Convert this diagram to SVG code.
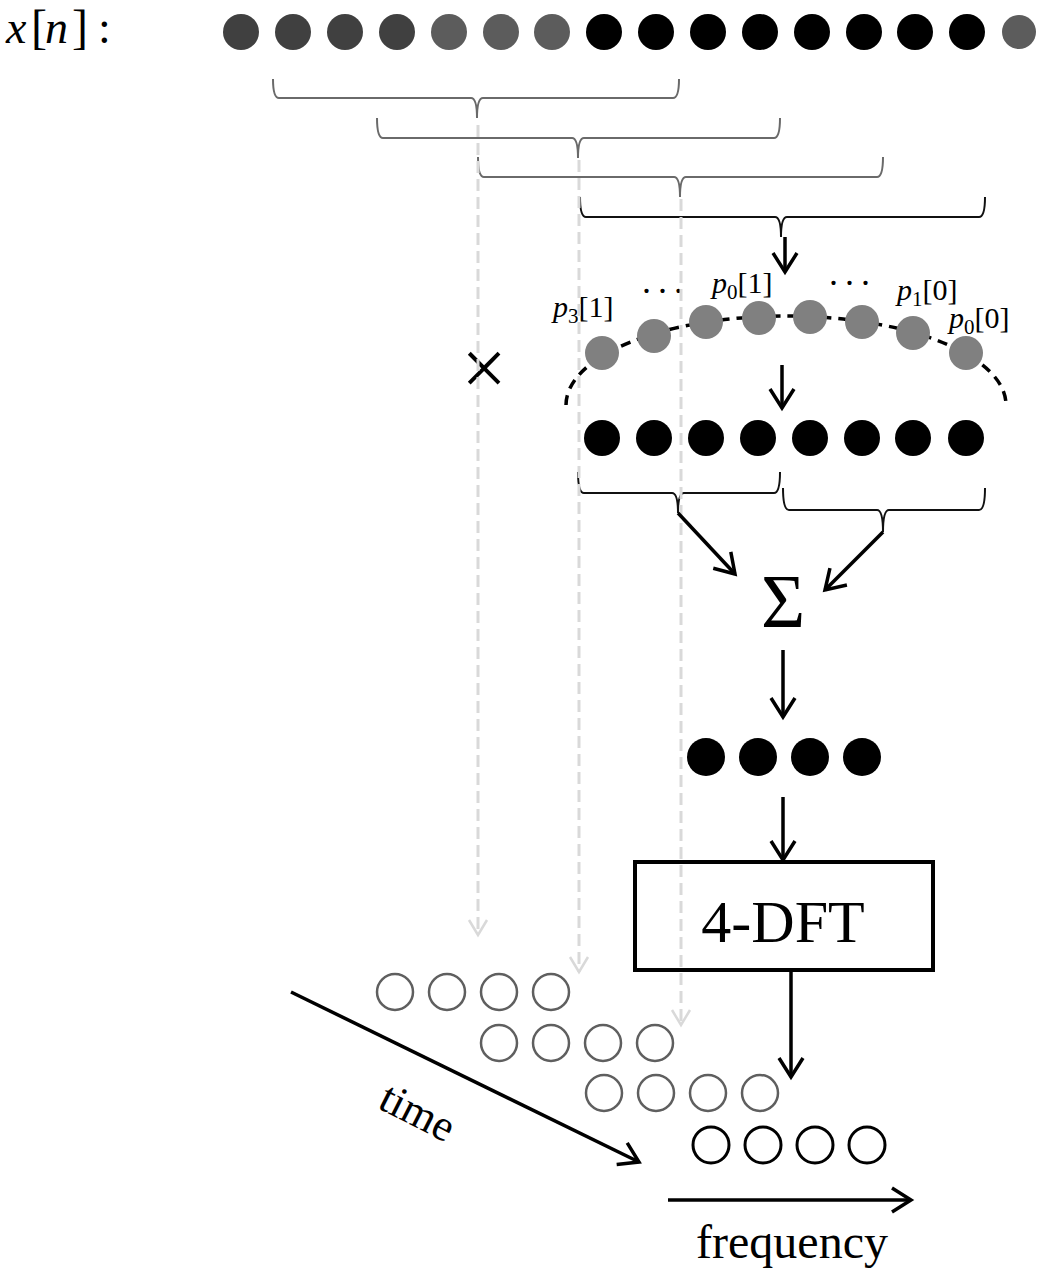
<svg xmlns="http://www.w3.org/2000/svg" width="1048" height="1275" viewBox="0 0 1048 1275">
<style>
  .serif { font-family: "Liberation Serif", "Times New Roman", serif; fill: #000; }
  .it { font-style: italic; }
  .brace-g { fill: none; stroke: #6a6a6a; stroke-width: 2; }
  .brace-k { fill: none; stroke: #111; stroke-width: 2; }
  .arrow { fill: none; stroke: #000; stroke-width: 3.5; marker-end: url(#ah); }
  .dash { fill: none; stroke: #d9d9d9; stroke-width: 3; stroke-dasharray: 12 6; marker-end: url(#ahg); }
  .ocirc-g { fill: none; stroke: #5f5f5f; stroke-width: 2.5; }
  .ocirc-k { fill: none; stroke: #000; stroke-width: 3; }
</style>
<defs>
  <marker id="ah" markerUnits="userSpaceOnUse" markerWidth="32" markerHeight="32" viewBox="-24 -16 32 32" refX="0" refY="0" orient="auto">
    <path d="M-19,-12 L0,0 L-19,12" fill="none" stroke="#000" stroke-width="3.5"/>
  </marker>
  <marker id="ahg" markerUnits="userSpaceOnUse" markerWidth="26" markerHeight="26" viewBox="-20 -13 26 26" refX="0" refY="0" orient="auto">
    <path d="M-15,-9 L0,0 L-15,9" fill="none" stroke="#d9d9d9" stroke-width="2.5"/>
  </marker>
</defs>

<g id="label-x">
  <text class="serif" font-size="46" y="43"><tspan class="it" x="6">x</tspan><tspan x="31" font-size="48">[</tspan><tspan class="it" x="45">n</tspan><tspan x="72" font-size="48">]</tspan><tspan x="98">:</tspan></text>
</g>

<g id="input-samples">
  <circle cx="241" cy="32" r="18" fill="#404040"/>
  <circle cx="293" cy="32" r="18" fill="#404040"/>
  <circle cx="345" cy="32" r="18" fill="#404040"/>
  <circle cx="397" cy="32" r="18" fill="#404040"/>
  <circle cx="449" cy="32" r="18" fill="#5c5c5c"/>
  <circle cx="501" cy="32" r="18" fill="#5c5c5c"/>
  <circle cx="552" cy="32" r="18" fill="#5c5c5c"/>
  <circle cx="604" cy="32" r="18" fill="#000"/>
  <circle cx="656" cy="32" r="18" fill="#000"/>
  <circle cx="708" cy="32" r="18" fill="#000"/>
  <circle cx="760" cy="32" r="18" fill="#000"/>
  <circle cx="812" cy="32" r="18" fill="#000"/>
  <circle cx="864" cy="32" r="18" fill="#000"/>
  <circle cx="915" cy="32" r="18" fill="#000"/>
  <circle cx="967" cy="32" r="18" fill="#000"/>
  <circle cx="1019" cy="32" r="17" fill="#5c5c5c"/>
</g>

<g id="window-braces">
  <path class="brace-g" d="M273,79 Q273,98 279,98 H471 Q477,98 477,118 Q477,98 483,98 H673 Q679,98 679,79"/>
  <path class="brace-g" d="M377,118 Q377,138 383,138 H572 Q578,138 578,158 Q578,138 584,138 H774 Q780,138 780,118"/>
  <path class="brace-g" d="M478,157 Q478,177 484,177 H674 Q680,177 680,197 Q680,177 686,177 H877 Q883,177 883,157"/>
  <path class="brace-k" d="M580,197 Q580,217 586,217 H775 Q781,217 781,237 Q781,217 787,217 H979 Q985,217 985,197"/>
</g>

<g id="multiply">
  <text class="serif" x="484" y="395" font-size="80" text-anchor="middle">×</text>
</g>

<g id="weighted-frame">
  <path d="M566,405 A220,89 0 0 1 1006,405" fill="none" stroke="#000" stroke-width="3.5" stroke-dasharray="10 7"/>
  <circle cx="602" cy="353" r="17" fill="#808080"/>
  <circle cx="654" cy="336" r="17" fill="#808080"/>
  <circle cx="706" cy="322" r="17" fill="#808080"/>
  <circle cx="759" cy="318" r="17" fill="#808080"/>
  <circle cx="810" cy="317" r="17" fill="#808080"/>
  <circle cx="862" cy="322" r="17" fill="#808080"/>
  <circle cx="913" cy="333" r="17" fill="#808080"/>
  <circle cx="966" cy="353" r="17" fill="#808080"/>
  <text class="serif" font-size="30" x="553" y="317"><tspan class="it">p</tspan><tspan font-size="21" dy="6">3</tspan><tspan dy="-6">[1]</tspan></text>
  <text class="serif" font-size="30" x="712" y="293"><tspan class="it">p</tspan><tspan font-size="21" dy="6">0</tspan><tspan dy="-6">[1]</tspan></text>
  <text class="serif" font-size="30" x="897" y="300"><tspan class="it">p</tspan><tspan font-size="21" dy="6">1</tspan><tspan dy="-6">[0]</tspan></text>
  <text class="serif" font-size="30" x="949" y="328"><tspan class="it">p</tspan><tspan font-size="21" dy="6">0</tspan><tspan dy="-6">[0]</tspan></text>
  <text class="serif" font-size="36" x="642" y="293" letter-spacing="7">...</text>
  <text class="serif" font-size="36" x="829" y="285" letter-spacing="7">...</text>
</g>

<g id="weighted-samples">
  <circle cx="602" cy="438" r="18" fill="#000"/>
  <circle cx="654" cy="438" r="18" fill="#000"/>
  <circle cx="706" cy="438" r="18" fill="#000"/>
  <circle cx="758" cy="438" r="18" fill="#000"/>
  <circle cx="810" cy="438" r="18" fill="#000"/>
  <circle cx="862" cy="438" r="18" fill="#000"/>
  <circle cx="913" cy="438" r="18" fill="#000"/>
  <circle cx="966" cy="438" r="18" fill="#000"/>
  <path class="brace-k" d="M578,472 Q578,493 584,493 H672 Q678,493 678,513 Q678,493 684,493 H774 Q780,493 780,472"/>
  <path class="brace-k" d="M783,488 Q783,510 789,510 H877 Q883,510 883,532 Q883,510 889,510 H979 Q985,510 985,488"/>
</g>

<g id="sum">
  <text class="serif" x="783" y="627" font-size="76" text-anchor="middle">Σ</text>
</g>

<g id="folded-samples">
  <circle cx="706" cy="757" r="19" fill="#000"/>
  <circle cx="758" cy="757" r="19" fill="#000"/>
  <circle cx="810" cy="757" r="19" fill="#000"/>
  <circle cx="862" cy="757" r="19" fill="#000"/>
</g>

<g id="dft-box">
  <rect x="635" y="862" width="298" height="108" fill="#fff" stroke="#000" stroke-width="4"/>
  <text class="serif" x="783" y="942" font-size="60" text-anchor="middle">4-DFT</text>
</g>

<g id="spectrogram">
  <circle class="ocirc-g" cx="395" cy="992" r="18"/>
  <circle class="ocirc-g" cx="447" cy="992" r="18"/>
  <circle class="ocirc-g" cx="499" cy="992" r="18"/>
  <circle class="ocirc-g" cx="551" cy="992" r="18"/>
  <circle class="ocirc-g" cx="499" cy="1043" r="18"/>
  <circle class="ocirc-g" cx="551" cy="1043" r="18"/>
  <circle class="ocirc-g" cx="603" cy="1043" r="18"/>
  <circle class="ocirc-g" cx="655" cy="1043" r="18"/>
  <circle class="ocirc-g" cx="604" cy="1093" r="18"/>
  <circle class="ocirc-g" cx="656" cy="1093" r="18"/>
  <circle class="ocirc-g" cx="708" cy="1093" r="18"/>
  <circle class="ocirc-g" cx="760" cy="1093" r="18"/>
  <circle class="ocirc-k" cx="711" cy="1145" r="18"/>
  <circle class="ocirc-k" cx="763" cy="1145" r="18"/>
  <circle class="ocirc-k" cx="815" cy="1145" r="18"/>
  <circle class="ocirc-k" cx="867" cy="1145" r="18"/>
</g>

<g id="axis-labels">
  <text class="serif" font-size="44" text-anchor="middle" transform="translate(411,1125) rotate(27)">time</text>
  <text class="serif" font-size="48" x="792" y="1258" text-anchor="middle">frequency</text>
</g>

<g id="connectors">
  <line class="dash" x1="478" y1="125" x2="478" y2="935"/>
  <line class="dash" x1="579" y1="160" x2="579" y2="972"/>
  <line class="dash" x1="681" y1="199" x2="681" y2="1025"/>
  <line class="arrow" x1="785" y1="237" x2="785" y2="272"/>
  <line class="arrow" x1="782" y1="365" x2="782" y2="408"/>
  <line class="arrow" x1="678" y1="513" x2="735" y2="574"/>
  <line class="arrow" x1="883" y1="532" x2="825" y2="590"/>
  <line class="arrow" x1="783" y1="650" x2="783" y2="717"/>
  <line class="arrow" x1="783" y1="797" x2="783" y2="860"/>
  <line class="arrow" x1="791" y1="972" x2="791" y2="1077"/>
  <line class="arrow" x1="291" y1="992" x2="639" y2="1162"/>
  <line class="arrow" x1="668" y1="1200" x2="911" y2="1200"/>
</g>
</svg>
